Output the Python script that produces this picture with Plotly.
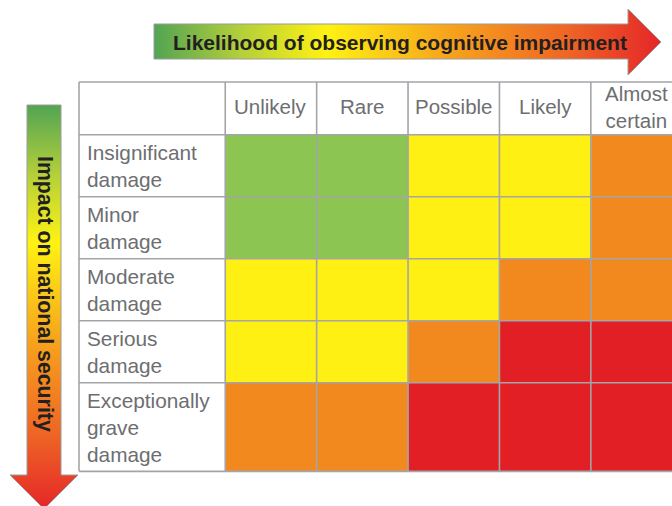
import numpy as np
import plotly.graph_objects as go

# ---------------- data ----------------
likelihood = ["Unlikely", "Rare", "Possible", "Likely", "Almost<br>certain"]
impact = ["Insignificant<br>damage", "Minor<br>damage", "Moderate<br>damage",
          "Serious<br>damage", "Exceptionally<br>grave<br>damage"]
# risk levels: 1 = low (green), 2 = medium (yellow), 3 = high (orange), 4 = extreme (red)
risk = [
    [1, 1, 2, 2, 3],
    [1, 1, 2, 2, 3],
    [2, 2, 2, 3, 3],
    [2, 2, 3, 4, 4],
    [3, 3, 4, 4, 4],
]
x_title = "Likelihood of observing cognitive impairment"
y_title = "Impact on national security"

# ---------------- layout geometry ----------------
W, H = 672, 506
UX, UY = 91.4, 62.0          # pixels per data unit
OX, OY = 79.0, 82.0          # pixel position of table's top-left corner
col_w = [1.6, 1, 1, 1, 1, 1]
row_h = [0.85, 1, 1, 1, 1, 1.43]
x_edges = np.concatenate([[0], np.cumsum(col_w)])
y_edges = np.concatenate([[0], np.cumsum(row_h)])


def px(x):
    return (x - OX) / UX


def py(y):
    return (y - OY) / UY


level_colors = ["#8cc552", "#fff014", "#f2891f", "#e31f26"]
colorscale = []
for i, c in enumerate(level_colors):
    colorscale.append([i / 4, c])
    colorscale.append([(i + 1) / 4, c])

grid_color = "#a3a5a8"
text_color = "#6d6e71"
title_color = "#231f20"
font_family = "Liberation Sans, Arial, Helvetica, sans-serif"

fig = go.Figure()

# risk cells
fig.add_trace(go.Heatmap(
    z=risk,
    x=x_edges[1:],
    y=y_edges[1:],
    zmin=0.5, zmax=4.5,
    colorscale=colorscale,
    showscale=False,
    hoverinfo="skip",
))

# gradient arrows
grad_h = [[0.0, "#52a453"], [0.17, "#b3cf3a"], [0.34, "#fff212"],
          [0.58, "#f7a41c"], [0.82, "#ee6425"], [1.0, "#e52629"]]
hx = [154, 628, 628, 661, 628, 628, 154, 154]
hy = [24, 24, 9, 42, 75, 59, 59, 24]
fig.add_trace(go.Scatter(
    x=[px(v) for v in hx], y=[py(v) for v in hy],
    mode="lines", fill="toself",
    line=dict(color="#9c9c9c", width=1),
    fillgradient=dict(type="horizontal", colorscale=grad_h),
    hoverinfo="skip", showlegend=False,
))
vx = [27, 61, 61, 78, 44, 10, 27, 27]
vy = [105, 105, 475, 475, 509, 475, 475, 105]
fig.add_trace(go.Scatter(
    x=[px(v) for v in vx], y=[py(v) for v in vy],
    mode="lines", fill="toself",
    line=dict(color="#9c9c9c", width=1),
    fillgradient=dict(type="vertical", colorscale=grad_h,
                      start=py(105), stop=py(509)),
    hoverinfo="skip", showlegend=False,
))

# grid lines
shapes = []
for xe in x_edges:
    shapes.append(dict(type="line", xref="x", yref="y", x0=xe, x1=xe,
                       y0=y_edges[0], y1=y_edges[-1],
                       line=dict(color=grid_color, width=1.6), layer="above"))
for ye in y_edges:
    shapes.append(dict(type="line", xref="x", yref="y", x0=x_edges[0], x1=x_edges[-1],
                       y0=ye, y1=ye,
                       line=dict(color=grid_color, width=1.6), layer="above"))

annotations = []
for j, lab in enumerate(likelihood):
    annotations.append(dict(
        x=(x_edges[j + 1] + x_edges[j + 2]) / 2,
        y=(y_edges[0] + y_edges[1]) / 2 - 1.5 / UY,
        xref="x", yref="y", text=lab, showarrow=False,
        xanchor="center", yanchor="middle", align="center",
        font=dict(family=font_family, size=20.5, color=text_color)))
for i, lab in enumerate(impact):
    annotations.append(dict(
        x=x_edges[0] + 6 / UX, y=(y_edges[i + 1] + y_edges[i + 2]) / 2,
        xref="x", yref="y", text=lab, showarrow=False,
        xanchor="left", yanchor="middle", align="left",
        font=dict(family=font_family, size=20.8, color=text_color)))

annotations.append(dict(
    x=px(400), y=py(42), xref="x", yref="y", text="<b>" + x_title + "</b>",
    showarrow=False, xanchor="center", yanchor="middle",
    font=dict(family=font_family, size=21, color=title_color)))
annotations.append(dict(
    x=px(45), y=py(294), xref="x", yref="y", text="<b>" + y_title + "</b>",
    showarrow=False, xanchor="center", yanchor="middle", textangle=90,
    font=dict(family=font_family, size=21.3, color=title_color)))

fig.update_layout(
    width=W, height=H,
    margin=dict(l=0, r=0, t=0, b=0),
    paper_bgcolor="white", plot_bgcolor="white",
    xaxis=dict(range=[px(0), px(W)], visible=False, fixedrange=True),
    yaxis=dict(range=[py(H), py(0)], visible=False, fixedrange=True),
    shapes=shapes, annotations=annotations,
    showlegend=False,
)

fig.write_html(
    "out.html",
    config={"displayModeBar": False},
    post_script="document.body.style.margin='0px';document.body.style.overflow='hidden';",
)
